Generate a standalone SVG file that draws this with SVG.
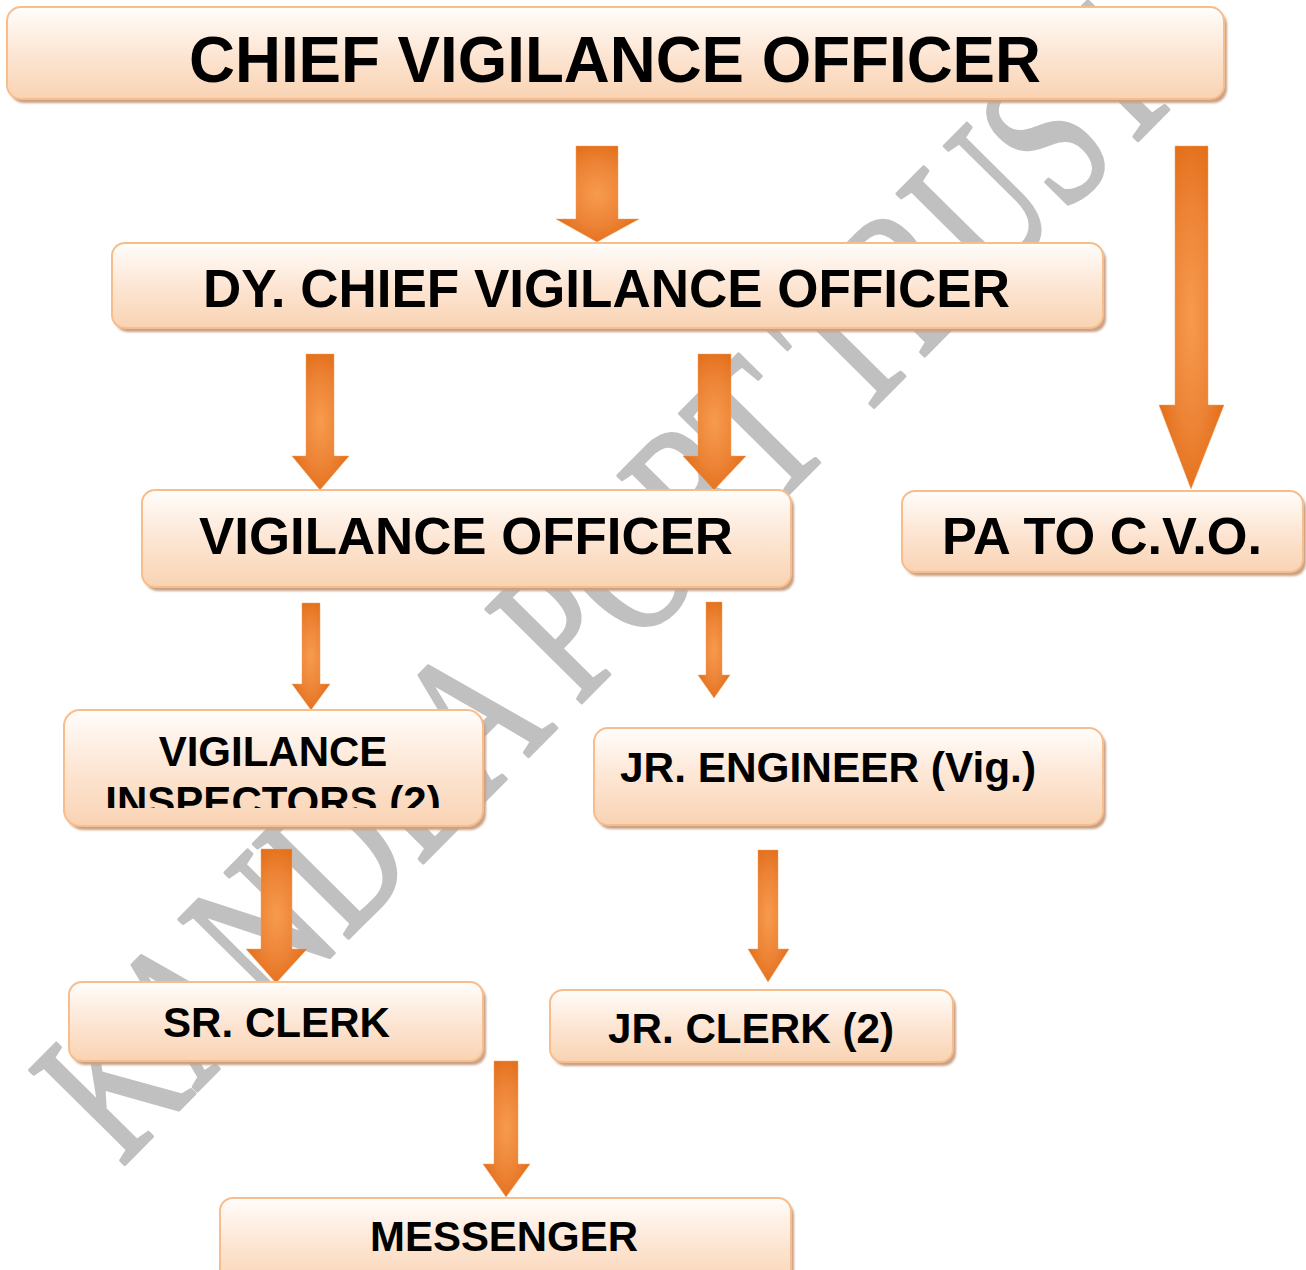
<svg xmlns="http://www.w3.org/2000/svg" width="1306" height="1270" viewBox="0 0 1306 1270">
<style>
.box{fill:url(#bg);stroke:#f8bd8c;stroke-width:2}
.sh{fill:#c9a184;filter:url(#blur)}
.t{font-family:"Liberation Sans",Arial,sans-serif;font-weight:bold;fill:#000;text-anchor:middle}
.arr{fill:url(#ag);stroke:#f2a060;stroke-width:0.8;stroke-opacity:0.6}
.wm{font-family:"Liberation Serif","Times New Roman",serif;fill:#c0c0c0;stroke:#c0c0c0;stroke-width:3.5;stroke-linejoin:round}
</style>
<defs>
<linearGradient id="bg" x1="0" y1="0" x2="0" y2="1">
<stop offset="0" stop-color="#fffdfb"/>
<stop offset="0.5" stop-color="#fde6d4"/>
<stop offset="1" stop-color="#f9d3b3"/>
</linearGradient>
<radialGradient id="ag" cx="0.5" cy="0.5" r="0.62">
<stop offset="0" stop-color="#f79b4e"/>
<stop offset="0.55" stop-color="#ec8234"/>
<stop offset="1" stop-color="#df6810"/>
</radialGradient>
<filter id="blur" x="-5%" y="-10%" width="110%" height="130%"><feGaussianBlur stdDeviation="1"/></filter>
<clipPath id="viclip"><rect x="64" y="700" width="420" height="108"/></clipPath>
</defs>
<rect width="1306" height="1270" fill="#fff"/>
<g id="watermark">
<text class="wm" font-size="204" transform="translate(121.5,1167.5) rotate(-45.3) scale(0.72,1)" x="0" y="0">KANDLA PORT TRUST</text>
</g>
<g id="connectors">
<path class="arr" d="M576,146H618V219H639L597,242L556,219H576Z"/>
<path class="arr" d="M1175,146H1208V405H1224L1191,489L1159,405H1175Z"/>
<path class="arr" d="M306,354H334V456H349L320,490L292,456H306Z"/>
<path class="arr" d="M698,354H731V456H746L714,490L683,456H698Z"/>
<path class="arr" d="M302,603H320V684H330L311,710L292,684H302Z"/>
<path class="arr" d="M706,602H722V675H730L714,698L698,675H706Z"/>
<path class="arr" d="M261,849H292V949H307L276,983L246,949H261Z"/>
<path class="arr" d="M758,850H778V949H789L768,982L748,949H758Z"/>
<path class="arr" d="M494,1061H518V1164H530L506,1197L483,1164H494Z"/>
</g>
<g id="cvo">
<rect class="sh" x="10" y="11" width="1217" height="92" rx="14"/>
<rect class="box" x="7" y="7" width="1217" height="92" rx="14"/>
<text class="t" x="615" y="82" font-size="64" textLength="852" lengthAdjust="spacingAndGlyphs">CHIEF VIGILANCE OFFICER</text>
</g>
<g id="dycvo">
<rect class="sh" x="115" y="247" width="991" height="85" rx="13"/>
<rect class="box" x="112" y="243" width="991" height="85" rx="13"/>
<text class="t" x="606.5" y="307" font-size="54" textLength="807" lengthAdjust="spacingAndGlyphs">DY. CHIEF VIGILANCE OFFICER</text>
</g>
<g id="vo">
<rect class="sh" x="145" y="494" width="649" height="97" rx="13"/>
<rect class="box" x="142" y="490" width="649" height="97" rx="13"/>
<text class="t" x="466" y="554" font-size="52" textLength="534" lengthAdjust="spacingAndGlyphs">VIGILANCE OFFICER</text>
</g>
<g id="pa">
<rect class="sh" x="905" y="495" width="401" height="81" rx="13"/>
<rect class="box" x="902" y="491" width="401" height="81" rx="13"/>
<text class="t" x="1102" y="554" font-size="51" textLength="320" lengthAdjust="spacingAndGlyphs">PA TO C.V.O.</text>
</g>
<g id="vi">
<rect class="sh" x="67" y="714" width="419" height="116" rx="16"/>
<rect class="box" x="64" y="710" width="419" height="116" rx="16"/>
<g clip-path="url(#viclip)">
<text class="t" x="273" y="766" font-size="42">VIGILANCE</text>
<text class="t" x="273" y="816" font-size="42">INSPECTORS (2)</text>
</g>
</g>
<g id="je">
<rect class="sh" x="597" y="732" width="509" height="97" rx="14"/>
<rect class="box" x="594" y="728" width="509" height="97" rx="14"/>
<text class="t" x="620" y="782" font-size="42" style="text-anchor:start" textLength="416" lengthAdjust="spacingAndGlyphs">JR. ENGINEER (Vig.)</text>
</g>
<g id="sr">
<rect class="sh" x="72" y="986" width="414" height="79" rx="13"/>
<rect class="box" x="69" y="982" width="414" height="79" rx="13"/>
<text class="t" x="276.5" y="1037" font-size="42" textLength="227" lengthAdjust="spacingAndGlyphs">SR. CLERK</text>
</g>
<g id="jrc">
<rect class="sh" x="553" y="994" width="403" height="72" rx="13"/>
<rect class="box" x="550" y="990" width="403" height="72" rx="13"/>
<text class="t" x="751" y="1043" font-size="42" textLength="286" lengthAdjust="spacingAndGlyphs">JR. CLERK (2)</text>
</g>
<g id="msg">
<rect class="sh" x="223" y="1202" width="571" height="90" rx="13"/>
<rect class="box" x="220" y="1198" width="571" height="90" rx="13"/>
<text class="t" x="504" y="1251" font-size="42" textLength="268" lengthAdjust="spacingAndGlyphs">MESSENGER</text>
</g>
</svg>
